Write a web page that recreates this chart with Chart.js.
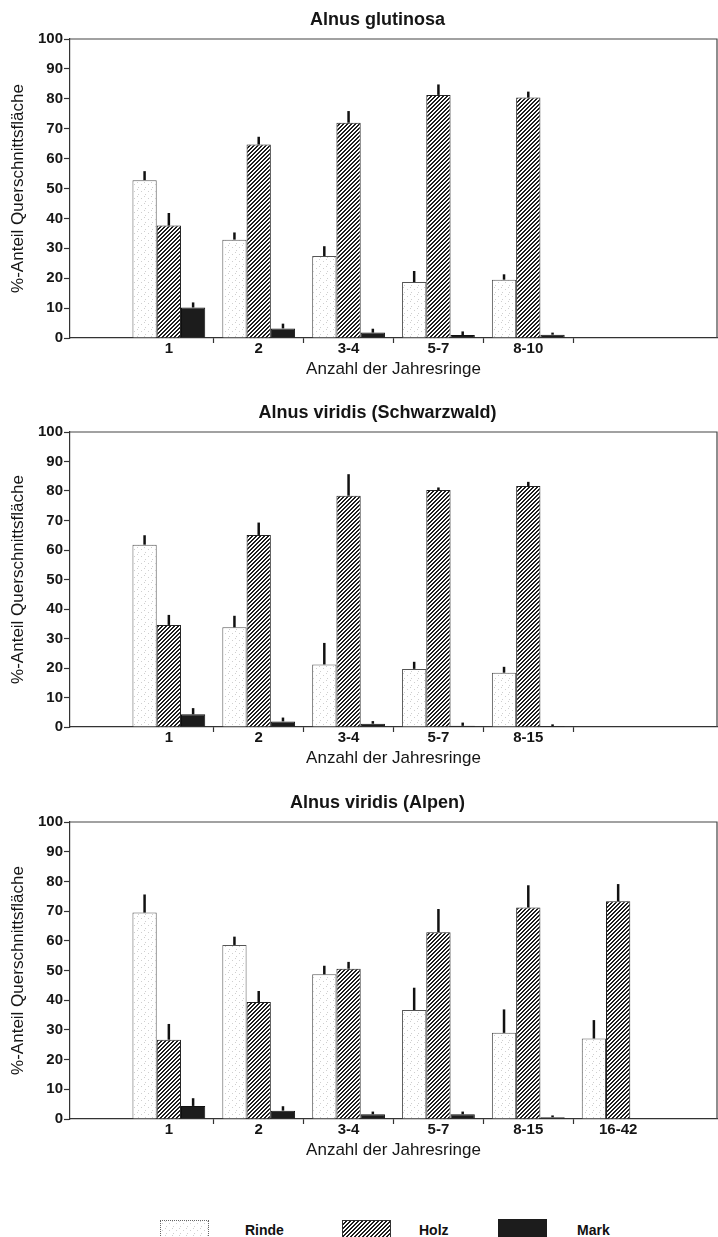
<!DOCTYPE html>
<html>
<head>
<meta charset="utf-8">
<script src="https://cdn.jsdelivr.net/npm/chart.js@4.4.1/dist/chart.umd.min.js"></script>
<style>
  body { margin: 0; background: #fff; width: 718px; height: 1237px; position: relative; overflow: hidden;
         font-family: 'Liberation Sans', Arial, sans-serif; }
  .panel { position: absolute; left: 0; }
  .muestra { position: absolute; width: 49px; height: 26px; box-sizing: border-box; }
  .etiqueta { position: absolute; top: 1222px; font-weight: bold; font-size: 14px; line-height: 16px; color: #111; }
</style>
</head>
<body>
<div class="panel" style="top:0"><canvas id="grafico1" width="718" height="382"></canvas></div>
<div class="panel" style="top:393px"><canvas id="grafico2" width="718" height="378"></canvas></div>
<div class="panel" style="top:783px"><canvas id="grafico3" width="718" height="380"></canvas></div>

<div class="muestra" id="leyRinde" style="left:160px; top:1220px; border:1px dotted #666;"></div>
<div class="etiqueta" style="left:245px;">Rinde</div>
<div class="muestra" id="leyHolz" style="left:342px; top:1220px; border:1px solid #333;"></div>
<div class="etiqueta" style="left:419px;">Holz</div>
<div class="muestra" id="leyMark" style="left:498px; top:1219px; background:#1c1c1c;"></div>
<div class="etiqueta" style="left:577px;">Mark</div>

<script>
// Datos: Alnus glutinosa
const glutinosaCats = ['1', '2', '3-4', '5-7', '8-10'];
const glutinosaRinde = [52.8, 32.9, 27.4, 18.7, 19.5];
const glutinosaRindeErr = [3.0, 2.4, 3.3, 3.7, 1.8];
const glutinosaHolz = [37.6, 64.7, 72.0, 81.3, 80.4];
const glutinosaHolzErr = [4.2, 2.6, 3.9, 3.5, 2.0];
const glutinosaMark = [10.2, 3.2, 1.8, 1.0, 1.1];
const glutinosaMarkErr = [1.7, 1.6, 1.3, 1.2, 0.7];

// Datos: Alnus viridis (Schwarzwald)
const schwarzwaldCats = ['1', '2', '3-4', '5-7', '8-15'];
const schwarzwaldRinde = [61.8, 33.8, 21.2, 19.7, 18.4];
const schwarzwaldRindeErr = [3.2, 3.9, 7.3, 2.4, 2.0];
const schwarzwaldHolz = [34.6, 65.1, 78.4, 80.3, 81.7];
const schwarzwaldHolzErr = [3.4, 4.2, 7.3, 0.9, 1.4];
const schwarzwaldMark = [4.3, 1.9, 1.1, 0.4, 0.3];
const schwarzwaldMarkErr = [2.1, 1.3, 0.9, 1.1, 0.6];

// Datos: Alnus viridis (Alpen)
const alpenCats = ['1', '2', '3-4', '5-7', '8-15', '16-42'];
const alpenRinde = [69.5, 58.6, 48.7, 36.7, 29.0, 27.1];
const alpenRindeErr = [6.1, 2.8, 2.9, 7.5, 7.9, 6.2];
const alpenHolz = [26.7, 39.4, 50.6, 62.9, 71.2, 73.3];
const alpenHolzErr = [5.3, 3.7, 2.3, 7.8, 7.5, 5.8];
const alpenMark = [4.4, 2.8, 1.6, 1.6, 0.6, 0.2];
const alpenMarkErr = [2.6, 1.5, 0.9, 0.9, 0.6, 0];

const fuente = "'Liberation Sans', Arial, sans-serif";
const tinta = '#151515';

// Tramas de relleno
function tramaRinde() {
    const c = document.createElement('canvas');
    c.width = 7; c.height = 7;
    const g = c.getContext('2d');
    g.fillStyle = '#fff';
    g.fillRect(0, 0, 7, 7);
    g.fillStyle = '#cfcfcf';
    g.fillRect(1, 2, 1, 1);
    g.fillRect(5, 5, 1, 1);
    g.fillRect(4, 0, 1, 1);
    return c;
}

function tramaHolz() {
    const c = document.createElement('canvas');
    c.width = 4; c.height = 4;
    const g = c.getContext('2d');
    g.fillStyle = '#fff';
    g.fillRect(0, 0, 4, 4);
    g.fillStyle = '#1e1e1e';
    for (let x = 0; x < 4; x++) {
        for (let y = 0; y < 4; y++) {
            if ((x + y) % 4 >= 2) g.fillRect(x, y, 1, 1);
        }
    }
    return c;
}

const lienzoRinde = tramaRinde();
const lienzoHolz = tramaHolz();

// Barras de error (solo hacia arriba)
const erroresPlugin = {
    id: 'errores',
    afterDatasetsDraw(chart) {
        const ctx = chart.ctx;
        const yScale = chart.scales.y;
        chart.data.datasets.forEach((ds, i) => {
            const meta = chart.getDatasetMeta(i);
            meta.data.forEach((barra, j) => {
                const err = ds.errores[j];
                if (!err) return;
                const arriba = yScale.getPixelForValue(ds.data[j].y + err);
                ctx.save();
                ctx.strokeStyle = '#111';
                ctx.lineWidth = 2.5;
                ctx.beginPath();
                ctx.moveTo(barra.x, barra.y);
                ctx.lineTo(barra.x, arriba);
                ctx.stroke();
                ctx.restore();
            });
        });
    }
};

// Marco superior y derecho
const marcoPlugin = {
    id: 'marco',
    beforeDatasetsDraw(chart) {
        const a = chart.chartArea;
        const ctx = chart.ctx;
        ctx.save();
        ctx.strokeStyle = '#444';
        ctx.lineWidth = 1.2;
        ctx.beginPath();
        ctx.moveTo(a.left, a.top);
        ctx.lineTo(a.right, a.top);
        ctx.lineTo(a.right, a.bottom);
        ctx.stroke();
        ctx.restore();
    }
};

function puntos(valores) {
    return valores.map((v, i) => ({ x: i + 1, y: v }));
}

function crearGrafico(id, titulo, cats, rinde, rindeErr, holz, holzErr, mark, markErr, ultimaMarca) {
    const ctx = document.getElementById(id).getContext('2d');
    const patRinde = ctx.createPattern(lienzoRinde, 'repeat');
    const patHolz = ctx.createPattern(lienzoHolz, 'repeat');
    new Chart(ctx, {
        type: 'bar',
        data: {
            datasets: [{
                label: 'Rinde',
                data: puntos(rinde),
                errores: rindeErr,
                backgroundColor: patRinde,
                borderColor: '#555',
                borderWidth: 1
            }, {
                label: 'Holz',
                data: puntos(holz),
                errores: holzErr,
                backgroundColor: patHolz,
                borderColor: '#222',
                borderWidth: 1
            }, {
                label: 'Mark',
                data: puntos(mark),
                errores: markErr,
                backgroundColor: '#1c1c1c',
                borderColor: '#111',
                borderWidth: 1
            }]
        },
        options: {
            responsive: false,
            animation: false,
            categoryPercentage: 0.81,
            barPercentage: 1.0,
            layout: { padding: { left: 38, right: 1, top: 0, bottom: 4.5 } },
            plugins: {
                legend: { display: false },
                tooltip: { enabled: false },
                title: {
                    display: true,
                    text: titulo,
                    color: tinta,
                    font: { family: fuente, size: 18, weight: 'bold', lineHeight: 1 },
                    padding: { top: 11, bottom: 10 }
                }
            },
            scales: {
                x: {
                    type: 'linear',
                    min: -0.1,
                    max: 7.1,
                    offset: false,
                    afterBuildTicks: (scale) => {
                        scale.ticks = cats.map((c, i) => ({ value: i + 1 }));
                    },
                    ticks: {
                        callback: (v, i) => cats[i],
                        autoSkip: false,
                        maxRotation: 0,
                        padding: -2,
                        color: tinta,
                        font: { family: fuente, size: 15, weight: 'bold', lineHeight: 1 }
                    },
                    grid: {
                        drawOnChartArea: false,
                        offset: true,
                        tickLength: 5,
                        tickWidth: 1.2,
                        tickColor: (c) => {
                            if (c.index === 0) return 'rgba(0,0,0,0)';
                            if (c.index === undefined && !ultimaMarca) return 'rgba(0,0,0,0)';
                            return '#333';
                        }
                    },
                    border: { color: '#333', width: 1.2 },
                    title: {
                        display: true,
                        text: 'Anzahl der Jahresringe',
                        color: tinta,
                        font: { family: fuente, size: 17, lineHeight: 1 },
                        padding: { top: 6.5, bottom: 0 }
                    }
                },
                y: {
                    min: 0,
                    max: 100,
                    afterFit: (scale) => { scale.width = 32; },
                    ticks: {
                        stepSize: 10,
                        padding: 1,
                        color: tinta,
                        font: { family: fuente, size: 15, weight: 'bold' }
                    },
                    grid: {
                        drawOnChartArea: false,
                        tickLength: 6,
                        tickWidth: 1.2,
                        tickColor: '#333'
                    },
                    border: { color: '#333', width: 1.2 },
                    title: {
                        display: true,
                        text: '%-Anteil Querschnittsfläche',
                        color: tinta,
                        font: { family: fuente, size: 17 },
                        padding: { top: -30, bottom: 0 }
                    }
                }
            }
        },
        plugins: [marcoPlugin, erroresPlugin]
    });
}

crearGrafico('grafico1', 'Alnus glutinosa', glutinosaCats,
    glutinosaRinde, glutinosaRindeErr, glutinosaHolz, glutinosaHolzErr, glutinosaMark, glutinosaMarkErr, true);
crearGrafico('grafico2', 'Alnus viridis (Schwarzwald)', schwarzwaldCats,
    schwarzwaldRinde, schwarzwaldRindeErr, schwarzwaldHolz, schwarzwaldHolzErr, schwarzwaldMark, schwarzwaldMarkErr, true);
crearGrafico('grafico3', 'Alnus viridis (Alpen)', alpenCats,
    alpenRinde, alpenRindeErr, alpenHolz, alpenHolzErr, alpenMark, alpenMarkErr, false);

// Leyenda con las mismas tramas
document.getElementById('leyRinde').style.backgroundImage = 'url(' + lienzoRinde.toDataURL() + ')';
document.getElementById('leyHolz').style.backgroundImage = 'url(' + lienzoHolz.toDataURL() + ')';
</script>
</body>
</html>
